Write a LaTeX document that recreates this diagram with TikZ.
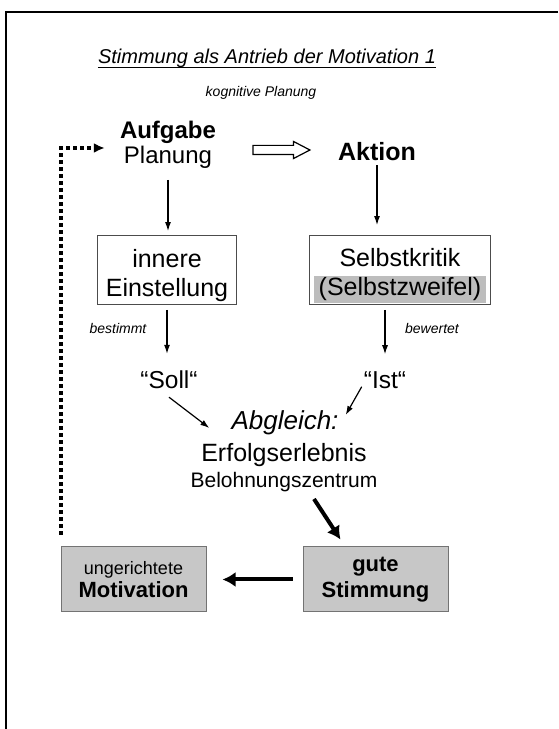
\documentclass[tikz,border=0pt]{standalone}
\usepackage{fontspec}
\setmainfont{Liberation Sans}
\usetikzlibrary{arrows.meta,shapes.arrows,positioning}
\definecolor{boxgray}{gray}{0.78}
\definecolor{markgray}{gray}{0.74}

\begin{document}
\begin{tikzpicture}[x=1pt,y=1pt,
    txt/.style={align=center,inner sep=0pt},
    big/.style={font=\fontsize{24.5}{25}\selectfont},
    whitebox/.style={draw=black!70,line width=0.8pt,minimum height=69pt,align=center,inner sep=0pt,
      text height=59pt,font=\fontsize{25}{29}\selectfont},
    graybox/.style={draw=black!55,fill=boxgray,line width=1pt,minimum width=145pt,minimum height=65pt,align=center,inner sep=0pt},
    flow/.style={-{Latex[length=9pt,width=6pt]},line width=1.2pt},
    bigflow/.style={-{Latex[length=13pt,width=15pt]},line width=4pt},
    loopline/.style={-{Latex[length=11pt,width=10pt]},line width=3.5pt,dash pattern=on 3.5pt off 3.5pt}]
  \useasboundingbox (0,0) rectangle (558,729);
  % frame
  \draw[line width=1.5pt] (558,717) -- (6,717) -- (6,0);

  \node[txt,font=\itshape\fontsize{20}{23}\selectfont] (title) at (267,671) {Stimmung als Antrieb der Motivation 1};
  \draw[line width=1pt] ([yshift=-4pt]title.base west) -- ([yshift=-4pt]title.base east);
  \node[txt,font=\itshape\fontsize{14}{16}\selectfont] (kog) at (261,636) {kognitive Planung};

  \node[txt,font=\fontsize{24}{25}\selectfont] (plan) at (168,584) {\textbf{Aufgabe}\\Planung};
  \node[txt,font=\bfseries\fontsize{25}{27}\selectfont] (akt) at (377,577) {Aktion};
  \node[single arrow,draw,line width=1.2pt,inner xsep=0pt,inner ysep=4pt,minimum height=57pt,
        single arrow head extend=4pt,single arrow tip angle=55] (hollow) at (277,579) {};

  \node[whitebox,minimum width=139pt] (einst) at (167,459) {innere\\Einstellung};
  \node[whitebox,minimum width=181pt] (kritik) at (400,459)
     {Selbstkritik\\{\fboxsep=2pt\colorbox{markgray}{\hspace{3pt}(Selbstzweifel)\hspace{3pt}}}};

  \node[txt,font=\itshape\fontsize{14}{16}\selectfont] (best) at (118,401) {bestimmt};
  \node[txt,font=\itshape\fontsize{14}{16}\selectfont] (bew) at (432,401) {bewertet};

  \node[txt,big] (soll) at (169,349) {“Soll“};
  \node[txt,big] (ist) at (385,349) {“Ist“};
  \node[txt,font=\itshape\fontsize{26}{28}\selectfont] (abgl) at (285,306) {Abgleich:};
  \node[txt,font=\fontsize{25}{27}\selectfont] (erfolg) at (284,274) {Erfolgserlebnis};
  \node[txt,font=\fontsize{21}{24}\selectfont] (bel) at (284,247) {Belohnungszentrum};

  \node[graybox,font=\fontsize{18}{23}\selectfont] (mot) at (133.5,149.5)
     {ungerichtete\\{\bfseries\fontsize{22}{23}\selectfont Motivation}};
  \node[graybox,font=\bfseries\fontsize{22}{26}\selectfont] (gute) at (375.5,149.5) {gute\\Stimmung};

  \draw[flow,shorten <=11pt,shorten >=4pt] (plan.south) -- (plan.south |- einst.north);
  \draw[flow,shorten <=4pt,shorten >=10pt] (akt.south) -- (akt.south |- kritik.north);
  \draw[flow,shorten <=5pt,shorten >=17pt] (einst.south) -- (einst.south |- soll.north);
  \draw[flow,shorten <=5pt,shorten >=17pt] (ist.north |- kritik.south) -- (ist.north);
  \draw[flow] ([yshift=-8pt]soll.south) -- ([xshift=-22pt,yshift=-5pt]abgl.west);
  \draw[flow] ([xshift=-2pt,yshift=2pt]ist.south west) -- ([xshift=7pt,yshift=8pt]abgl.east);
  \draw[bigflow] ([xshift=30pt,yshift=-7pt]bel.south) -- ([xshift=-35pt,yshift=7pt]gute.north);
  \draw[bigflow,shorten <=10pt,shorten >=16pt] (gute.west) -- (mot.east);

  \coordinate (loopend) at (61,194);
  \draw[loopline] (loopend) |- ([xshift=-15pt,yshift=-3pt]plan.west);
\end{tikzpicture}
\end{document}
